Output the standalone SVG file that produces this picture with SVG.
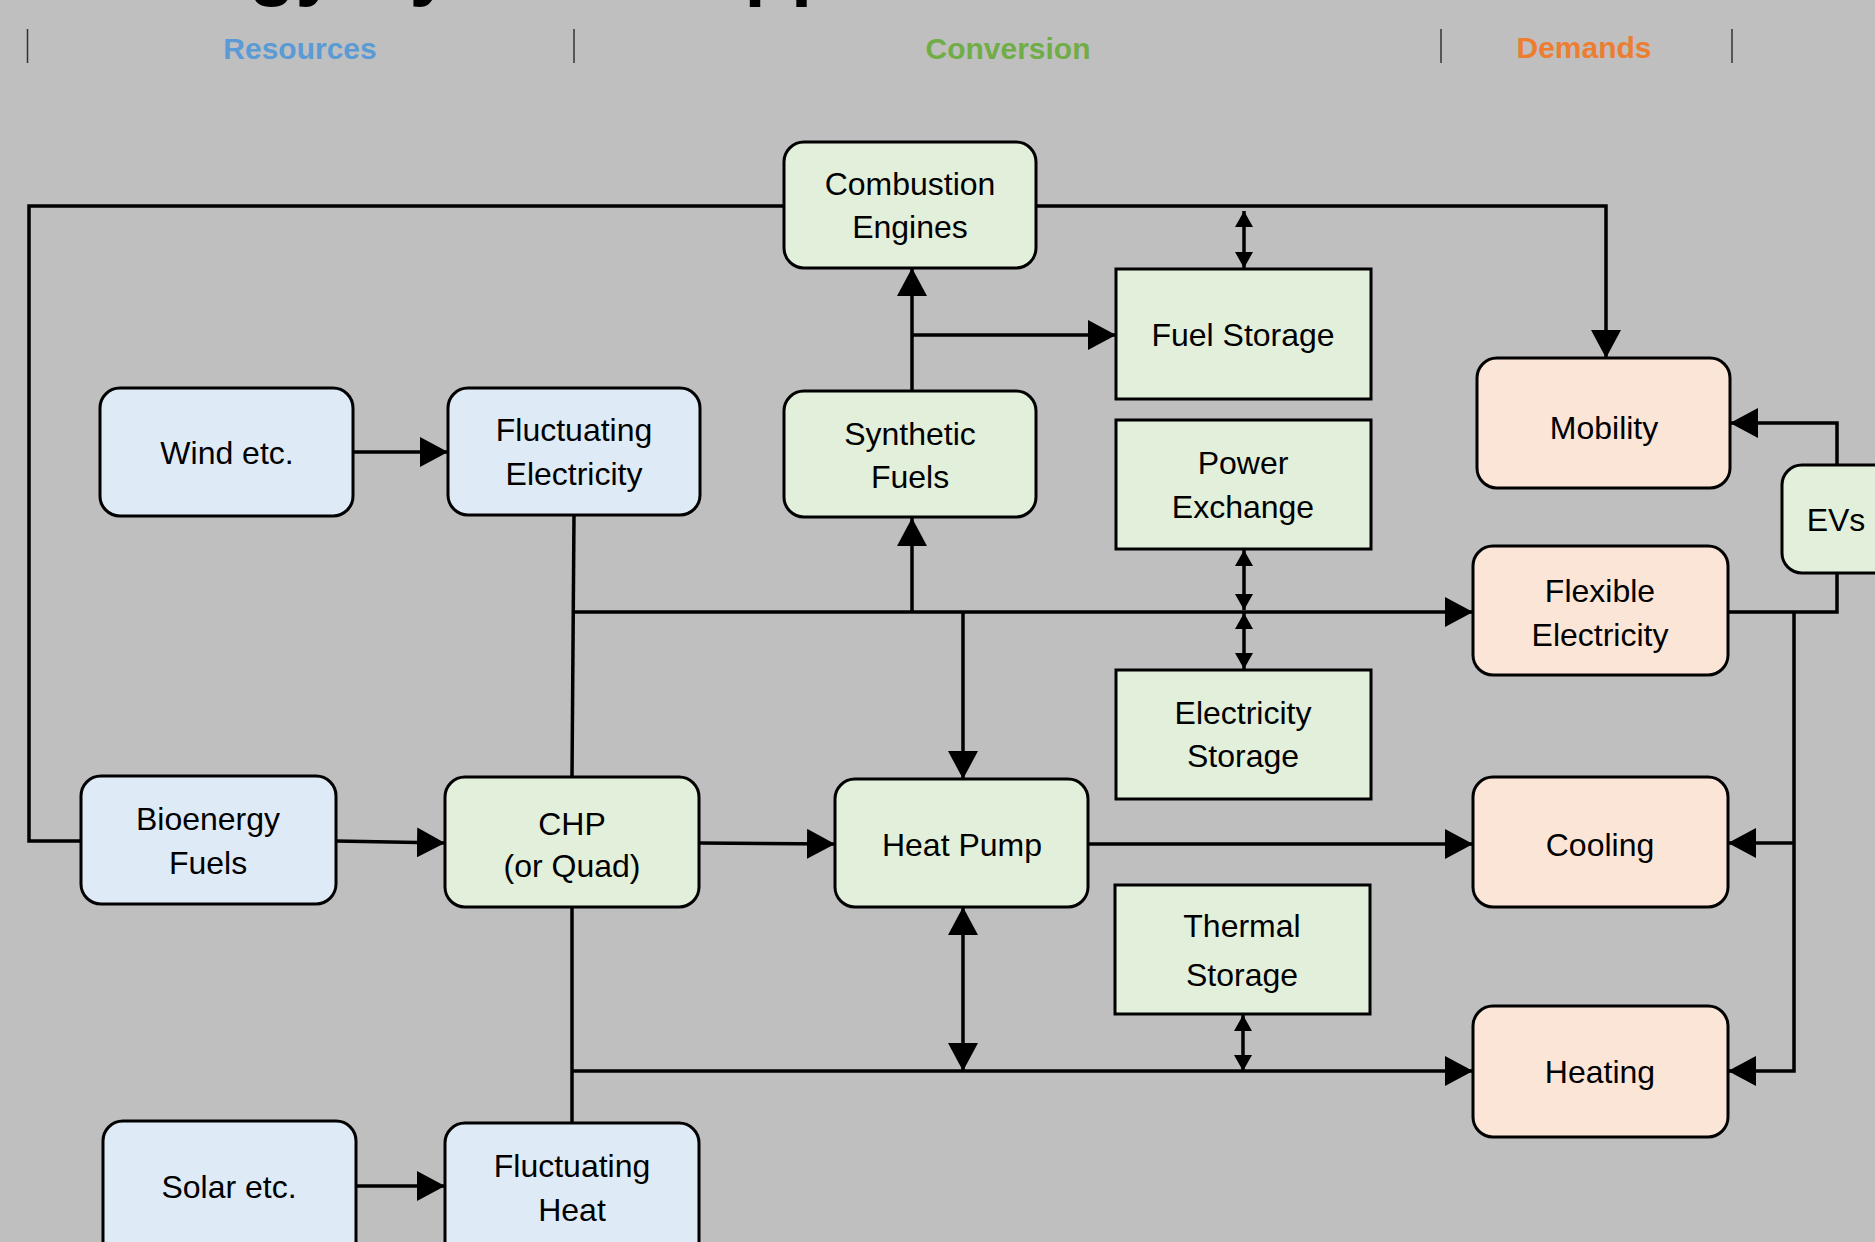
<svg xmlns="http://www.w3.org/2000/svg" width="1875" height="1242" viewBox="0 0 1875 1242">
<style>
  .bg{fill:#bfbfbf}
  .blue{fill:#deebf7;stroke:#000;stroke-width:3}
  .green{fill:#e2efda;stroke:#000;stroke-width:3}
  .orange{fill:#fbe5d6;stroke:#000;stroke-width:3}
  .lbl{font-family:"Liberation Sans",Arial,sans-serif;font-size:32px;fill:#000;text-anchor:middle}
  .hdr{font-family:"Liberation Sans",Arial,sans-serif;font-size:30px;font-weight:bold;text-anchor:middle}
  .title{font-family:"Liberation Sans",Arial,sans-serif;font-size:76px;font-weight:bold;fill:#000}
  .sep{stroke:#333;stroke-width:1.5}
  .con{fill:none;stroke:#000;stroke-width:3.5}
</style>
<defs>
  <marker id="arr" viewBox="0 0 28 30" refX="28" refY="15" markerWidth="28" markerHeight="30" markerUnits="userSpaceOnUse" orient="auto-start-reverse">
    <path d="M0,0 L28,15 L0,30 z" fill="#000"/>
  </marker>
  <marker id="sarr" viewBox="0 0 16 18" refX="16" refY="9" markerWidth="16" markerHeight="18" markerUnits="userSpaceOnUse" orient="auto-start-reverse">
    <path d="M0,0 L16,9 L0,18 z" fill="#000"/>
  </marker>
</defs>
<rect class="bg" x="0" y="0" width="1875" height="1242"/>

<text class="title" x="80" y="-9">Energy Systems Approach</text>

<g id="header">
  <line class="sep" x1="27.5" y1="29" x2="27.5" y2="63"/>
  <line class="sep" x1="574" y1="29" x2="574" y2="63"/>
  <line class="sep" x1="1441" y1="29" x2="1441" y2="63"/>
  <line class="sep" x1="1732" y1="29" x2="1732" y2="63"/>
  <text class="hdr" x="300" y="59" fill="#5b9bd5">Resources</text>
  <text class="hdr" x="1008" y="59" fill="#70ad47">Conversion</text>
  <text class="hdr" x="1584" y="58" fill="#ed7d31">Demands</text>
</g>

<g id="connectors">
  <path class="con" d="M784,206 H29 V841 H81"/>
  <path class="con" d="M1036,206 H1606 V358" marker-end="url(#arr)"/>
  <path class="con" d="M1244,211 V268" marker-start="url(#sarr)" marker-end="url(#sarr)"/>
  <path class="con" d="M912,391 V268" marker-end="url(#arr)"/>
  <path class="con" d="M912,335 H1116" marker-end="url(#arr)"/>
  <path class="con" d="M353,452 H448" marker-end="url(#arr)"/>
  <path class="con" d="M574,515 L572,777"/>
  <path class="con" d="M574,612 H1473" marker-end="url(#arr)"/>
  <path class="con" d="M912,612 V518" marker-end="url(#arr)"/>
  <path class="con" d="M963,612 V779" marker-end="url(#arr)"/>
  <path class="con" d="M1244,550 V610" marker-start="url(#sarr)" marker-end="url(#sarr)"/>
  <path class="con" d="M1244,613 V669" marker-start="url(#sarr)" marker-end="url(#sarr)"/>
  <path class="con" d="M336,841 L445,843" marker-end="url(#arr)"/>
  <path class="con" d="M699,843 L835,844" marker-end="url(#arr)"/>
  <path class="con" d="M1088,844 H1473" marker-end="url(#arr)"/>
  <path class="con" d="M572,907 V1123"/>
  <path class="con" d="M572,1071 H1473" marker-end="url(#arr)"/>
  <path class="con" d="M963,907 V1071" marker-start="url(#arr)" marker-end="url(#arr)"/>
  <path class="con" d="M1243,1015 V1071" marker-start="url(#sarr)" marker-end="url(#sarr)"/>
  <path class="con" d="M356,1186 H445" marker-end="url(#arr)"/>
  <path class="con" d="M1837,465 V423 H1730" marker-end="url(#arr)"/>
  <path class="con" d="M1728,612 H1837 V573"/>
  <path class="con" d="M1794,612 V1071 H1728" marker-end="url(#arr)"/>
  <path class="con" d="M1794,843 H1728" marker-end="url(#arr)"/>
</g>

<g id="combustion-engines">
  <rect class="green" x="784" y="142" width="252" height="126" rx="20"/>
  <text class="lbl" x="910" y="195">Combustion</text>
  <text class="lbl" x="910" y="238">Engines</text>
</g>
<g id="fuel-storage">
  <rect class="green" x="1116" y="269" width="255" height="130"/>
  <text class="lbl" x="1243" y="346">Fuel Storage</text>
</g>
<g id="mobility">
  <rect class="orange" x="1477" y="358" width="253" height="130" rx="20"/>
  <text class="lbl" x="1604" y="439">Mobility</text>
</g>
<g id="wind">
  <rect class="blue" x="100" y="388" width="253" height="128" rx="20"/>
  <text class="lbl" x="227" y="464">Wind etc.</text>
</g>
<g id="fluctuating-electricity">
  <rect class="blue" x="448" y="388" width="252" height="127" rx="20"/>
  <text class="lbl" x="574" y="441">Fluctuating</text>
  <text class="lbl" x="574" y="485">Electricity</text>
</g>
<g id="synthetic-fuels">
  <rect class="green" x="784" y="391" width="252" height="126" rx="20"/>
  <text class="lbl" x="910" y="445">Synthetic</text>
  <text class="lbl" x="910" y="488">Fuels</text>
</g>
<g id="power-exchange">
  <rect class="green" x="1116" y="420" width="255" height="129"/>
  <text class="lbl" x="1243" y="474">Power</text>
  <text class="lbl" x="1243" y="518">Exchange</text>
</g>
<g id="evs">
  <rect class="green" x="1782" y="465" width="130" height="108" rx="20"/>
  <text class="lbl" x="1836" y="531">EVs</text>
</g>
<g id="flexible-electricity">
  <rect class="orange" x="1473" y="546" width="255" height="129" rx="20"/>
  <text class="lbl" x="1600" y="602">Flexible</text>
  <text class="lbl" x="1600" y="646">Electricity</text>
</g>
<g id="electricity-storage">
  <rect class="green" x="1116" y="670" width="255" height="129"/>
  <text class="lbl" x="1243" y="724">Electricity</text>
  <text class="lbl" x="1243" y="767">Storage</text>
</g>
<g id="bioenergy-fuels">
  <rect class="blue" x="81" y="776" width="255" height="128" rx="20"/>
  <text class="lbl" x="208" y="830">Bioenergy</text>
  <text class="lbl" x="208" y="874">Fuels</text>
</g>
<g id="chp">
  <rect class="green" x="445" y="777" width="254" height="130" rx="20"/>
  <text class="lbl" x="572" y="835">CHP</text>
  <text class="lbl" x="572" y="877">(or Quad)</text>
</g>
<g id="heat-pump">
  <rect class="green" x="835" y="779" width="253" height="128" rx="20"/>
  <text class="lbl" x="962" y="856">Heat Pump</text>
</g>
<g id="cooling">
  <rect class="orange" x="1473" y="777" width="255" height="130" rx="20"/>
  <text class="lbl" x="1600" y="856">Cooling</text>
</g>
<g id="thermal-storage">
  <rect class="green" x="1115" y="885" width="255" height="129"/>
  <text class="lbl" x="1242" y="937">Thermal</text>
  <text class="lbl" x="1242" y="986">Storage</text>
</g>
<g id="heating">
  <rect class="orange" x="1473" y="1006" width="255" height="131" rx="20"/>
  <text class="lbl" x="1600" y="1083">Heating</text>
</g>
<g id="solar">
  <rect class="blue" x="103" y="1121" width="253" height="150" rx="20"/>
  <text class="lbl" x="229" y="1198">Solar etc.</text>
</g>
<g id="fluctuating-heat">
  <rect class="blue" x="445" y="1123" width="254" height="150" rx="20"/>
  <text class="lbl" x="572" y="1177">Fluctuating</text>
  <text class="lbl" x="572" y="1221">Heat</text>
</g>
</svg>
